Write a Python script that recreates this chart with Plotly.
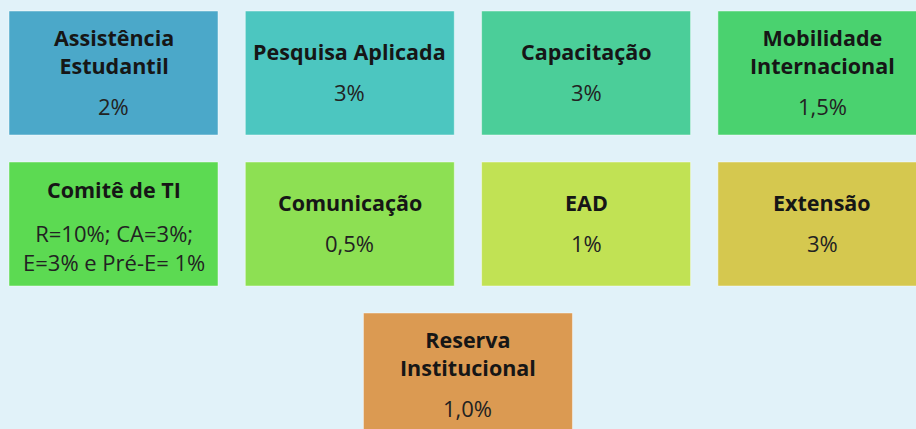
import plotly.graph_objects as go

# ---- data ----
titles = ["Assistência\nEstudantil", "Pesquisa Aplicada", "Capacitação", "Mobilidade\nInternacional",
          "Comitê de TI", "Comunicação", "EAD", "Extensão", "Reserva\nInstitucional"]
values = ["2%", "3%", "3%", "1,5%", "R=10%; CA=3%;\nE=3% e Pré-E= 1%", "0,5%", "1%", "3%", "1,0%"]
colors = ["#4BA8C9", "#4CC6C0", "#4BCE99", "#4AD26F", "#5CDA52", "#8DE053", "#C1E254", "#D5C84F", "#DB9A52"]

# ---- layout constants ----
W, H = 916, 429
PER_ROW = 4
X0, PITCH_X, BOX_W = 9, 236.3, 209
Y0, PITCH_Y, BOX_H = 11, 151, 124
FONT = "Open Sans"
TS, VS = 21.5, 22
TITLE_LS = 1.3 * TS
VALUE_LS = 1.3 * VS
BG = "#E1F2F9"

fig = go.Figure()
shapes, annots = [], []
n = len(titles)
for i in range(n):
    row = i // PER_ROW
    col = i % PER_ROW
    in_row = min(PER_ROW, n - row * PER_ROW)
    col_pos = col + (PER_ROW - in_row) / 2
    x0 = X0 + col_pos * PITCH_X
    y0 = Y0 + row * PITCH_Y
    shapes.append(dict(type="rect", xref="x", yref="y", x0=x0, x1=x0 + BOX_W, y0=y0, y1=y0 + BOX_H,
                       fillcolor=colors[i], line=dict(color="rgba(255,255,255,0.45)", width=1), layer="below"))
    cx = x0 + BOX_W / 2
    cy = y0 + BOX_H / 2
    tl = titles[i].split("\n")
    vl = values[i].split("\n")
    if len(vl) == 1:
        gap = 41
        span = (len(tl) - 1) * 28 + gap
        first = cy - 1.5 - span / 2
        t_c = first + (len(tl) - 1) * 28 / 2
        v_c = first + (len(tl) - 1) * 28 + gap
    else:
        t_c = cy - 35
        v_c = cy + 23.5
    annots.append(dict(x=cx, y=t_c, xref="x", yref="y", text="<b>" + "<br>".join(tl) + "</b>",
                       showarrow=False, xanchor="center", yanchor="middle", align="center",
                       font=dict(family=FONT, size=TS, color="#161616")))
    annots.append(dict(x=cx, y=v_c, xref="x", yref="y", text="<br>".join(vl),
                       showarrow=False, xanchor="center", yanchor="middle", align="center",
                       font=dict(family=FONT, size=VS, color="#222222")))

fig.update_layout(
    width=W, height=H,
    margin=dict(l=0, r=0, t=0, b=0),
    paper_bgcolor=BG, plot_bgcolor=BG,
    xaxis=dict(range=[0, W], visible=False, fixedrange=True),
    yaxis=dict(range=[H, 0], visible=False, fixedrange=True),
    shapes=shapes, annotations=annots, showlegend=False,
)
fig.write_html("out.html", config={"displayModeBar": False},
               post_script="document.body.style.margin='0';document.body.style.padding='0';"
                           "document.body.style.background='" + BG + "';")
